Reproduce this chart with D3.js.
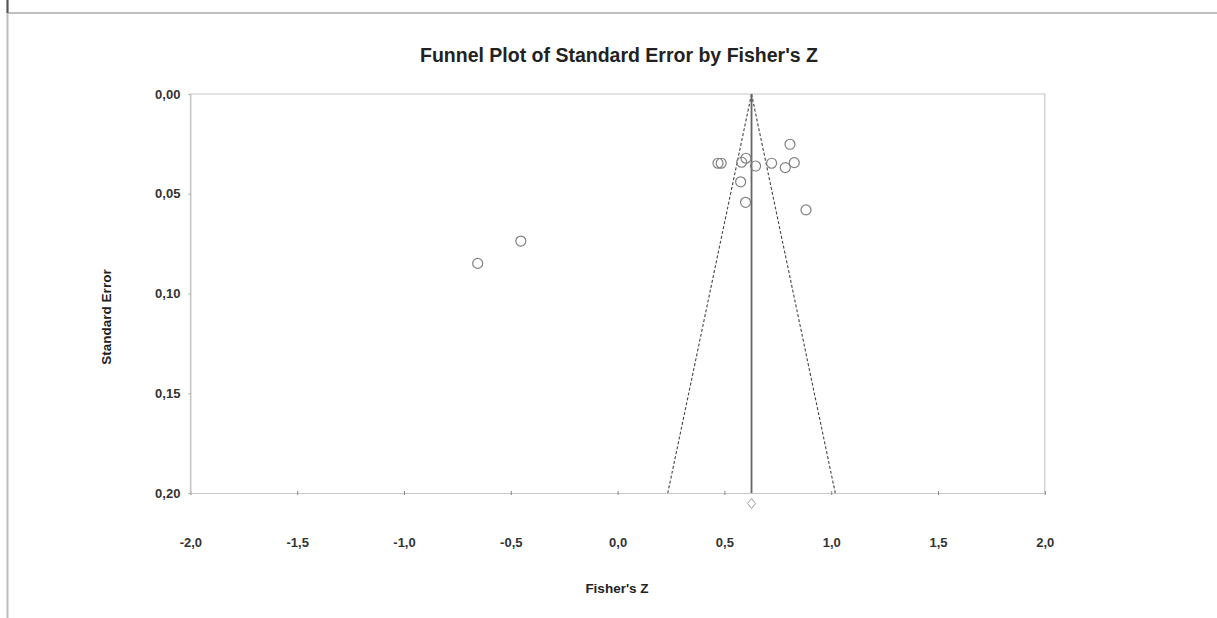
<!DOCTYPE html>
<html><head><meta charset="utf-8">
<script src="https://cdn.jsdelivr.net/npm/d3@7"></script>
<style>
html,body{margin:0;padding:0;background:#fff;}
svg{display:block;font-family:Arial,"Liberation Sans",sans-serif;}
</style></head><body>
<svg id="c" width="1217" height="618"></svg>
<script>
const fisherZ = [0.470, 0.485, 0.581, 0.601, 0.646, 0.721, 0.807, 0.785, 0.827, 0.576, 0.599, 0.882, -0.655, -0.453];
const stdErr  = [0.0347, 0.0347, 0.0342, 0.0322, 0.0361, 0.0347, 0.0252, 0.0369, 0.0344, 0.0440, 0.0543, 0.0581, 0.0849, 0.0737];
const pooledZ = 0.627;
const xTicks = [-2.0, -1.5, -1.0, -0.5, 0.0, 0.5, 1.0, 1.5, 2.0];
const yTicks = [0.00, 0.05, 0.10, 0.15, 0.20];

const svg = d3.select("#c");
const L = 190.4, R = 1044.8, T = 94, B = 493;
const x = d3.scaleLinear().domain([-2, 2]).range([L, R]);
const y = d3.scaleLinear().domain([0, 0.2]).range([T, B]);
const fmt = (d, n) => d.toFixed(n).replace(".", ",");
const FF = "Arial,'Liberation Sans',sans-serif";

// outer frame
svg.append("line").attr("x1", 8).attr("x2", 1217).attr("y1", 13).attr("y2", 13)
  .attr("stroke", "#aaa").attr("stroke-width", 1.5);
svg.append("line").attr("x1", 7.5).attr("x2", 7.5).attr("y1", 0).attr("y2", 618)
  .attr("stroke", "#bbb").attr("stroke-width", 2);
svg.append("line").attr("x1", 7.5).attr("x2", 7.5).attr("y1", 0).attr("y2", 13)
  .attr("stroke", "#555").attr("stroke-width", 2);

// title
svg.append("text").attr("x", 619).attr("y", 62).attr("text-anchor", "middle")
  .attr("font-size", 19.5).attr("font-weight", "bold").attr("fill", "#222")
  .text("Funnel Plot of Standard Error by Fisher's Z");

// plot box (top, left, right)
svg.append("path").attr("d", `M${L},${B}V${T}H${R}V${B}`).attr("fill", "none")
  .attr("stroke", "#c8c8c8").attr("stroke-width", 1.2);

// x axis
const gx = svg.append("g").attr("transform", `translate(0,${B})`)
  .call(d3.axisBottom(x).tickValues(xTicks).tickSize(0).tickFormat(d => fmt(d, 1)));
gx.select(".domain").attr("stroke", "#c8c8c8").attr("stroke-width", 1.2);
gx.selectAll(".tick").append("line").attr("y1", -2).attr("y2", 2).attr("stroke", "#888");
gx.selectAll("text").attr("dy", 0).attr("y", 53.5).attr("font-size", 13).attr("font-weight", "bold")
  .attr("fill", "#333").attr("font-family", FF);

// y axis
const gy = svg.append("g").attr("transform", `translate(${L},0)`)
  .call(d3.axisLeft(y).tickValues(yTicks).tickSize(0).tickFormat(d => fmt(d, 2)));
gy.select(".domain").attr("stroke", "#c8c8c8").attr("stroke-width", 1.2);
gy.selectAll(".tick").append("line").attr("x1", -2).attr("x2", 0).attr("stroke", "#aaa");
gy.selectAll("text").attr("x", -10).attr("font-size", 13).attr("font-weight", "bold")
  .attr("fill", "#333").attr("font-family", FF);

// axis titles
svg.append("text").attr("x", 617).attr("y", 593).attr("text-anchor", "middle")
  .attr("font-size", 13.5).attr("font-weight", "bold").attr("fill", "#222").text("Fisher's Z");
svg.append("text").attr("transform", "translate(111,317) rotate(-90)").attr("text-anchor", "middle")
  .attr("font-size", 13.5).attr("font-weight", "bold").attr("fill", "#222").text("Standard Error");

// funnel lines
const seMax = 0.2;
[-1, 1].forEach(s => {
  svg.append("line")
    .attr("x1", x(pooledZ)).attr("y1", y(0))
    .attr("x2", x(pooledZ + s * 1.96 * seMax)).attr("y2", y(seMax))
    .attr("stroke", "#444").attr("stroke-width", 1.1).attr("stroke-dasharray", "3,2");
});
// pooled line
svg.append("line").attr("x1", x(pooledZ)).attr("x2", x(pooledZ)).attr("y1", y(0)).attr("y2", y(seMax))
  .attr("stroke", "#666").attr("stroke-width", 1.8);

// points
svg.append("g").selectAll("circle").data(fisherZ.map((z, i) => [z, stdErr[i]])).join("circle")
  .attr("cx", d => x(d[0])).attr("cy", d => y(d[1])).attr("r", 5)
  .attr("fill", "none").attr("stroke", "#808080").attr("stroke-width", 1.2);

// diamond
const dx = x(pooledZ), dy = y(seMax) + 10.5;
svg.append("path").attr("d", `M${dx},${dy-5}L${dx+4},${dy}L${dx},${dy+5}L${dx-4},${dy}Z`)
  .attr("fill", "#fff").attr("stroke", "#999").attr("stroke-width", 1);
</script>
</body></html>
